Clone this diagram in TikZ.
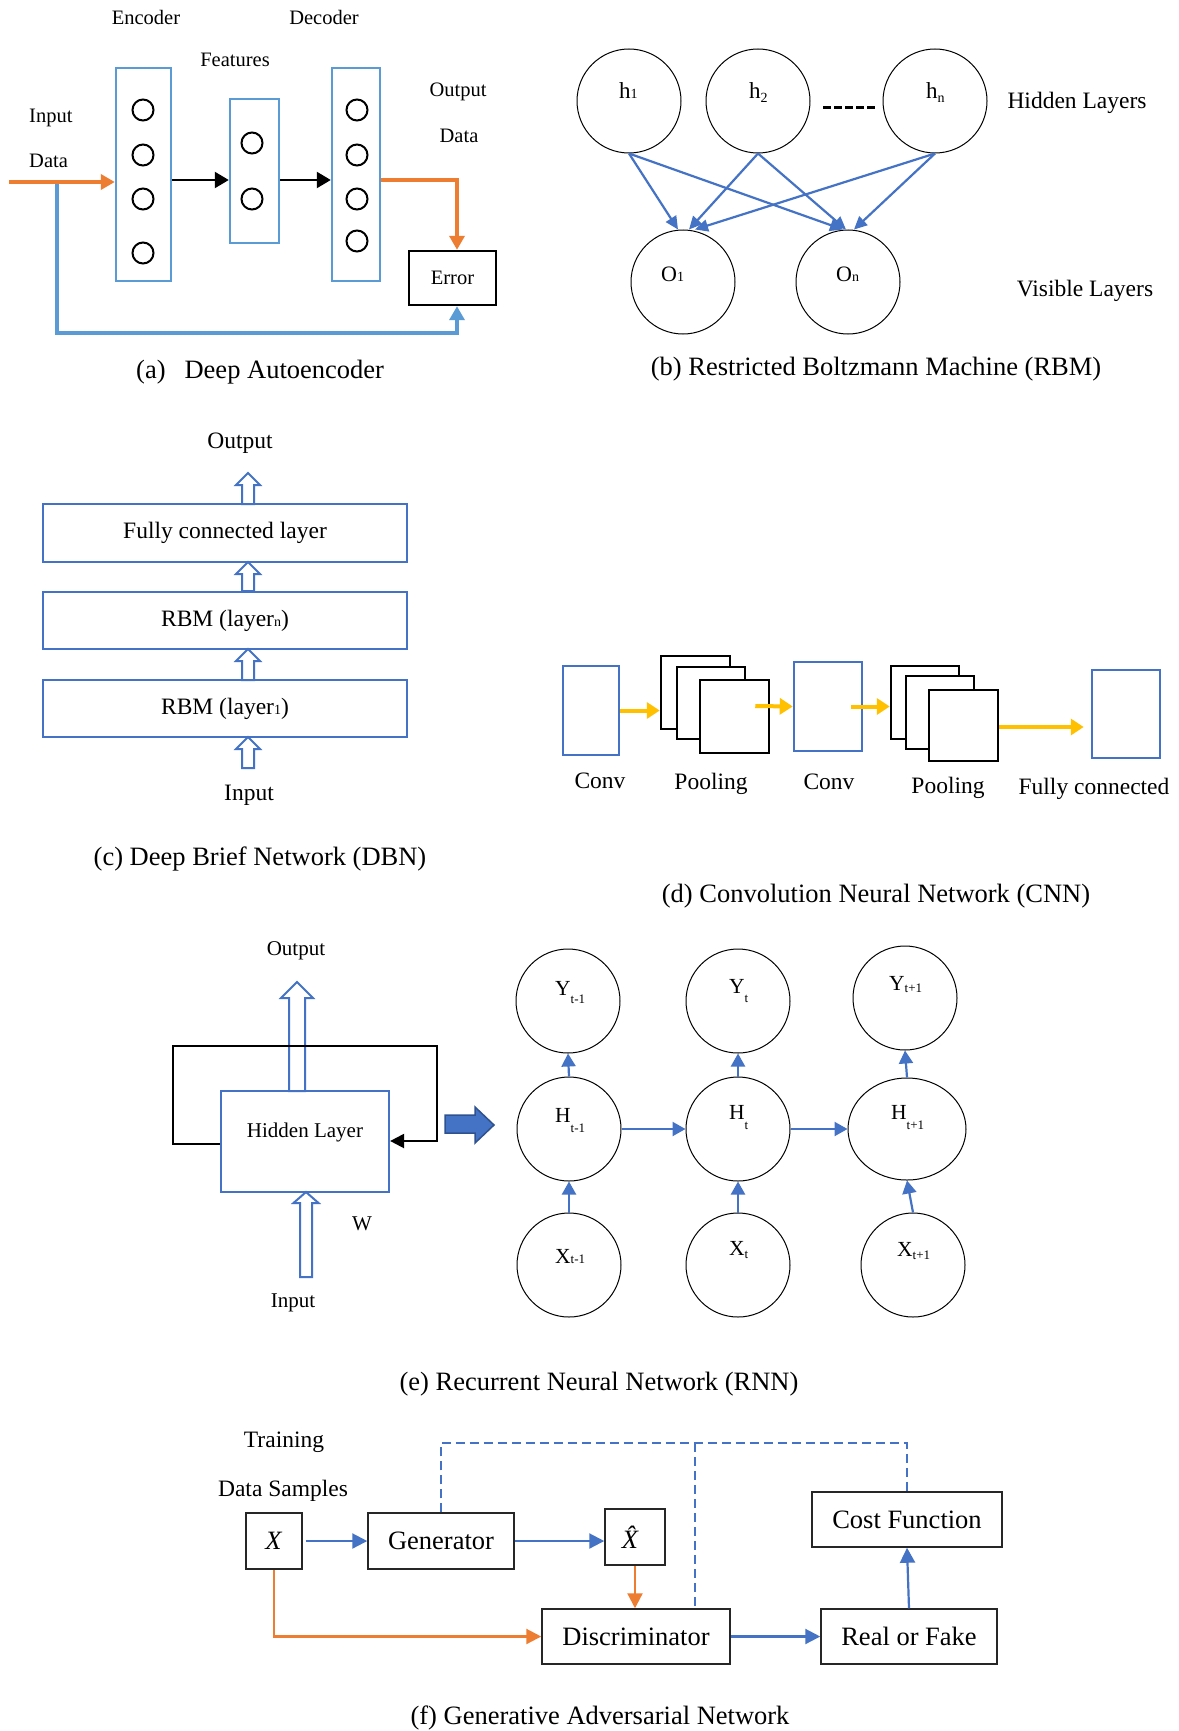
\documentclass[tikz,border=0pt]{standalone}
\usepackage{fontspec}
\setmainfont{Liberation Serif}
\usetikzlibrary{arrows.meta,calc,shapes.geometric}
\definecolor{lblue}{HTML}{5B9BD5}
\definecolor{mblue}{HTML}{4472C4}
\definecolor{orng}{HTML}{ED7D31}
\definecolor{yel}{HTML}{FFC000}
\definecolor{dblue}{HTML}{2F528F}
\newcommand\myfs[1]{\fontsize{#1}{#1}\selectfont}
\newcommand\hollowup[6]{%
  \draw[hollowst] (#1-#4,#2) -- (#1-#4,#3+#6) -- (#1-#5,#3+#6) -- (#1,#3) -- (#1+#5,#3+#6) -- (#1+#4,#3+#6) -- (#1+#4,#2) -- cycle;}
\begin{document}
\begin{tikzpicture}[x=1pt,y=-1pt,
  txt/.style={inner sep=0, anchor=base},
  fa/.style={font=\myfs{20.5}},
  capt/.style={font=\myfs{26.5}},
  abox/.style={draw=lblue, line width=2.4pt, inner sep=0},
  ccirc/.style={circle, draw, line width=2pt, minimum size=21pt, inner sep=0},
  karrow/.style={draw, line width=2.2pt, -{Triangle[length=14pt,width=16pt]}},
  oarrow/.style={draw=orng, line width=3.6pt, -{Triangle[length=14pt,width=15pt]}},
  larrow/.style={draw=lblue, line width=3.6pt, -{Triangle[length=14pt,width=15pt]}},
  bcirc/.style={circle, draw, line width=1pt, minimum size=104pt, inner sep=0},
  barrow/.style={draw=mblue, line width=2.2pt, -{Triangle[length=13pt,width=12pt]}},
  cbox/.style={draw=mblue, line width=2.5pt, inner sep=0, font=\myfs{23.5}, minimum width=364pt, minimum height=57pt},
  hollowst/.style={draw=mblue, line width=2pt, fill=white},
  dbox/.style={draw=mblue, line width=2.5pt, inner sep=0},
  pbox/.style={draw=black, line width=2.5pt, fill=white, inner sep=0},
  yarrow/.style={draw=yel, line width=4pt, -{Triangle[length=13pt,width=16pt]}},
  ecirc/.style={circle, draw, line width=1pt, minimum size=104pt, inner sep=0},
  earrow/.style={draw=mblue, line width=2.2pt, -{Triangle[length=13pt,width=14pt]}},
  fbox/.style={draw=black!85, line width=1.5pt, inner sep=0, font=\myfs{26.5}},
  farrow/.style={draw=mblue, line width=2.2pt, -{Triangle[length=15pt,width=15pt]}},
  forarrow/.style={draw=orng, line width=2.2pt, -{Triangle[length=15pt,width=15pt]}},
  fdash/.style={draw=mblue, line width=2pt, dash pattern=on 9pt off 5pt}
]
\fill[white] (0,0) rectangle (1178,1731);
\useasboundingbox (0,0) rectangle (1178,1731);

% ================= (a) Deep Autoencoder =================
\node[txt,fa] (tEnc) at (146,25) {Encoder};
\node[txt,fa] (tDec) at (324,25) {Decoder};
\node[txt,fa] (tFeat) at (235,67) {Features};
\node[txt,fa,anchor=base west] (tIn) at (29,123) {Input};
\node[txt,fa,anchor=base west] (tData) at (29,168) {Data};
\node[txt,fa] (tOut) at (458,97) {Output};
\node[txt,fa] (tOData) at (459,143) {Data};

\node[abox, minimum width=55pt, minimum height=213pt] (enc) at (143.5,174.5) {};
\node[abox, minimum width=49pt, minimum height=144pt] (feat) at (254.5,171) {};
\node[abox, minimum width=48pt, minimum height=213pt] (dec) at (356,174.5) {};

\node[ccirc] (e1) at (143,110) {};
\node[ccirc] (e2) at (143,155) {};
\node[ccirc] (e3) at (143,199) {};
\node[ccirc] (e4) at (143,253) {};
\node[ccirc] (f1) at (252,143) {};
\node[ccirc] (f2) at (252,199) {};
\node[ccirc] (d1) at (357,110) {};
\node[ccirc] (d2) at (357,155) {};
\node[ccirc] (d3) at (357,199) {};
\node[ccirc] (d4) at (357,241) {};

\node[draw=black, line width=2.4pt, minimum width=87pt, minimum height=54pt, inner sep=0, fa] (err) at (452.5,278) {Error};

\draw[karrow] ($(enc.east)+(0,5.5)$) -- ($(feat.west)+(0,9)$);
\draw[karrow] ($(feat.east)+(0,9)$) -- ($(dec.west)+(0,5.5)$);
\coordinate (inStart) at (9,182);
\coordinate (fb) at (57,182);
\draw[larrow] (fb) -- (57,333) -| ($(err.south)+(4.5,0)$);
\draw[oarrow] (inStart) -- ($(enc.west)+(0,7.5)$);
\draw[oarrow] ($(dec.east)+(0,5.5)$) -| ($(err.north)+(4.5,0)$);

\node[txt,capt,anchor=base west] (capA) at (136,378) {(a)\hspace{19pt}Deep Autoencoder};

% ================= (b) RBM =================
\node[bcirc] (h1) at (629,101) {};
\node[bcirc] (h2) at (758,101) {};
\node[bcirc] (hn) at (935,101) {};
\node[bcirc] (o1) at (683,282) {};
\node[bcirc] (on) at (848,282) {};

\node[txt,anchor=base west,font=\myfs{23}] (lh1) at (619,99) {h{\myfs{14}1}};
\node[txt,anchor=base west,font=\myfs{23}] (lh2) at (749,99) {h\raisebox{-4pt}{\myfs{14}2}};
\node[txt,anchor=base west,font=\myfs{23}] (lhn) at (926,99) {h\raisebox{-4pt}{\myfs{14}n}};
\node[txt,anchor=base west,font=\myfs{22}] (lo1) at (661,281) {O{\myfs{14}1}};
\node[txt,anchor=base west,font=\myfs{22}] (lon) at (836,281) {O{\myfs{14}n}};

\draw[line width=3pt, dash pattern=on 8pt off 3pt] (823,108) -- (875,108);

\node[txt,font=\myfs{23.5}] (tHid) at (1077,109) {Hidden Layers};
\node[txt,font=\myfs{23.5}] (tVis) at (1085,296) {Visible Layers};

\draw[barrow] (h1.south) -- ($(o1.north)+(-5,0)$);
\draw[barrow] (h2.south) -- ($(o1.north)+(6,0)$);
\draw[barrow] (hn.south) -- ($(o1.north)+(12,0)$);
\draw[barrow] (h1.south) -- ($(on.north)+(-5,0)$);
\draw[barrow] (h2.south) -- ($(on.north)+(-2,0)$);
\draw[barrow] (hn.south) -- ($(on.north)+(6,0)$);

\node[txt,capt] (capB) at (876,375) {(b) Restricted Boltzmann Machine (RBM)};

% ================= (c) DBN =================
\node[txt,font=\myfs{23.5}] (tOutC) at (240,448) {Output};
\node[cbox, minimum height=58pt] (fc) at (225,533) {Fully connected layer};
\node[cbox] (rbmn) at (225,620.5) {RBM (layer{\myfs{14}n})};
\node[cbox] (rbm1) at (225,708.5) {RBM (layer{\myfs{14}1})};
\hollowup{248}{504}{473}{6}{12}{12}
\hollowup{248}{591}{562}{6}{12}{12}
\hollowup{248}{680}{649}{6}{12}{12}
\hollowup{248}{768}{737}{6}{12}{12}
\node[txt,font=\myfs{23.5}] (tInC) at (249,800) {Input};
\node[txt,capt] (capC) at (260,865) {(c) Deep Brief Network (DBN)};

% ================= (d) CNN =================
\node[dbox, minimum width=56pt, minimum height=89pt] (cv1) at (591,710.5) {};
\node[pbox, minimum width=69pt, minimum height=73pt] (p1a) at (695.5,692.5) {};
\node[pbox, minimum width=68pt, minimum height=72pt] (p1b) at (711,703) {};
\node[pbox, minimum width=69pt, minimum height=73pt] (p1c) at (734.5,716.5) {};
\node[dbox, minimum width=68pt, minimum height=89pt] (cv2) at (828,706.5) {};
\node[pbox, minimum width=68pt, minimum height=73pt] (p2a) at (925,702.5) {};
\node[pbox, minimum width=68pt, minimum height=73pt] (p2b) at (940,712.5) {};
\node[pbox, minimum width=69pt, minimum height=71pt] (p2c) at (963.5,725.5) {};
\node[dbox, minimum width=68pt, minimum height=88pt] (fcd) at (1126,714) {};

\draw[yarrow] (cv1.east) -- ($(p1a.west)+(0,18)$);
\draw[yarrow] ($(p1c.east)+(-15,-10.5)$) -- (cv2.west);
\draw[yarrow] ($(cv2.east)+(-12,0)$) -- ($(p2a.west)+(0,4)$);
\draw[yarrow] ($(p2c.east)+(0,1.5)$) -- ($(fcd.west)+(-7,13)$);

\node[txt,font=\myfs{23.5}] (lc1) at (600,788) {Conv};
\node[txt,font=\myfs{23.5}] (lp1) at (711,789) {Pooling};
\node[txt,font=\myfs{23.5}] (lc2) at (829,789) {Conv};
\node[txt,font=\myfs{23.5}] (lp2) at (948,793) {Pooling};
\node[txt,font=\myfs{23.5}] (lfc) at (1094,794) {Fully connected};
\node[txt,capt] (capD) at (876,902) {(d) Convolution Neural Network (CNN)};

% ================= (e) RNN =================
\node[txt,font=\myfs{21}] (tOutE) at (296,955) {Output};
\hollowup{297}{1091}{982}{8}{16}{16}
\node[draw=mblue, line width=2.2pt, minimum width=168pt, minimum height=101pt, inner sep=0] (hid) at (305,1141.5) {};
\node[txt,font=\myfs{21}] (tHidL) at (305,1137) {Hidden Layer};
\coordinate (lpL) at (173,1046);
\coordinate (lpR) at (437,1046);
\draw[line width=2.2pt, -{Triangle[length=14pt,width=14pt]}] ($(hid.west)+(0,2.5)$) -| (lpL) -- (lpR) |- ($(hid.east)+(0,-0.5)$);
\hollowup{306}{1277}{1192}{6}{12.5}{11}
\node[txt,font=\myfs{21}] (tW) at (362,1230) {W};
\node[txt,font=\myfs{21}] (tInE) at (293,1307) {Input};
\draw[fill=mblue, draw=dblue, line width=1.5pt] (445,1115) -- (475,1115) -- (475,1107) -- (494,1125) -- (475,1143) -- (475,1133) -- (445,1133) -- cycle;

\node[ecirc] (y1) at (568,1001) {};
\node[ecirc] (yt) at (738,1001) {};
\node[ecirc] (yt1) at (905,998) {};
\node[ecirc] (hh1) at (569,1129) {};
\node[ecirc] (hht) at (738,1129) {};
\node[ellipse, draw, line width=1pt, minimum width=118pt, minimum height=102pt, inner sep=0] (hht1) at (907,1129) {};
\node[ecirc] (x1) at (569,1265) {};
\node[ecirc] (xt) at (738,1265) {};
\node[ecirc] (xt1) at (913,1265) {};

\node[txt,anchor=base west,font=\myfs{21.5}] (ly1) at (555,995) {Y\raisebox{-8pt}{\myfs{13}t-1}};
\node[txt,anchor=base west,font=\myfs{21.5}] (lyt) at (729,993) {Y\raisebox{-9pt}{\myfs{13}t}};
\node[txt,anchor=base west,font=\myfs{21.5}] (lyt1) at (889,990) {Y\raisebox{-2pt}{\myfs{13}t+1}};
\node[txt,anchor=base west,font=\myfs{21.5}] (lh1e) at (555,1122) {H\raisebox{-10pt}{\myfs{13}t-1}};
\node[txt,anchor=base west,font=\myfs{21.5}] (lht) at (729,1119) {H\raisebox{-10pt}{\myfs{13}t}};
\node[txt,anchor=base west,font=\myfs{21.5}] (lht1) at (891,1119) {H\raisebox{-10pt}{\myfs{13}t+1}};
\node[txt,anchor=base west,font=\myfs{21.5}] (lx1) at (555,1263) {X{\myfs{13}t-1}};
\node[txt,anchor=base west,font=\myfs{21.5}] (lxt) at (729,1255) {X\raisebox{-3pt}{\myfs{13}t}};
\node[txt,anchor=base west,font=\myfs{21.5}] (lxt1) at (897,1256) {X\raisebox{-3pt}{\myfs{13}t+1}};

\draw[earrow] (hh1.north) -- (y1.south);
\draw[earrow] (hht.north) -- (yt.south);
\draw[earrow] (hht1.north) -- (yt1.south);
\draw[earrow] (x1.north) -- (hh1.south);
\draw[earrow] (xt.north) -- (hht.south);
\draw[earrow] (xt1.north) -- (hht1.south);
\draw[earrow] (hh1.east) -- (hht.west);
\draw[earrow] (hht.east) -- (hht1.west);

\node[txt,capt] (capE) at (599,1390) {(e) Recurrent Neural Network (RNN)};

% ================= (f) GAN =================
\node[txt,font=\myfs{23.5}] (tTrain) at (284,1447) {Training};
\node[txt,font=\myfs{23.5}] (tDS) at (283,1496) {Data Samples};
\node[fbox, minimum width=56pt, minimum height=56pt] (xb) at (274,1541) {\textit{X}};
\node[fbox, minimum width=146pt, minimum height=56pt] (gen) at (441,1541) {Generator};
\node[fbox, minimum width=60pt, minimum height=56pt] (xh) at (635,1537) {\textit{\^{X}}};
\node[fbox, minimum width=188pt, minimum height=55pt] (disc) at (636,1636.5) {Discriminator};
\node[fbox, minimum width=190pt, minimum height=55pt] (cf) at (907,1519.5) {Cost Function};
\node[fbox, minimum width=176pt, minimum height=55pt] (rf) at (909,1636.5) {Real or Fake};

\draw[farrow] ($(xb.east)+(3,0)$) -- (gen.west);
\draw[farrow] (gen.east) -- ($(xh.west)+(0,4)$);
\draw[forarrow] (xh.south) -- (xh.south |- disc.north);
\draw[forarrow] (xb.south) |- (disc.west);
\draw[farrow] (disc.east) -- (rf.west);
\draw[farrow] (rf.north) -- (cf.south);
\coordinate (dbar) at (695,1443);
\draw[fdash] (gen.north) |- (dbar) -| (cf.north);
\draw[fdash] (dbar) -- (dbar |- disc.north);

\node[txt,capt] (capF) at (600,1724) {(f) Generative Adversarial Network};
\end{tikzpicture}
\end{document}
